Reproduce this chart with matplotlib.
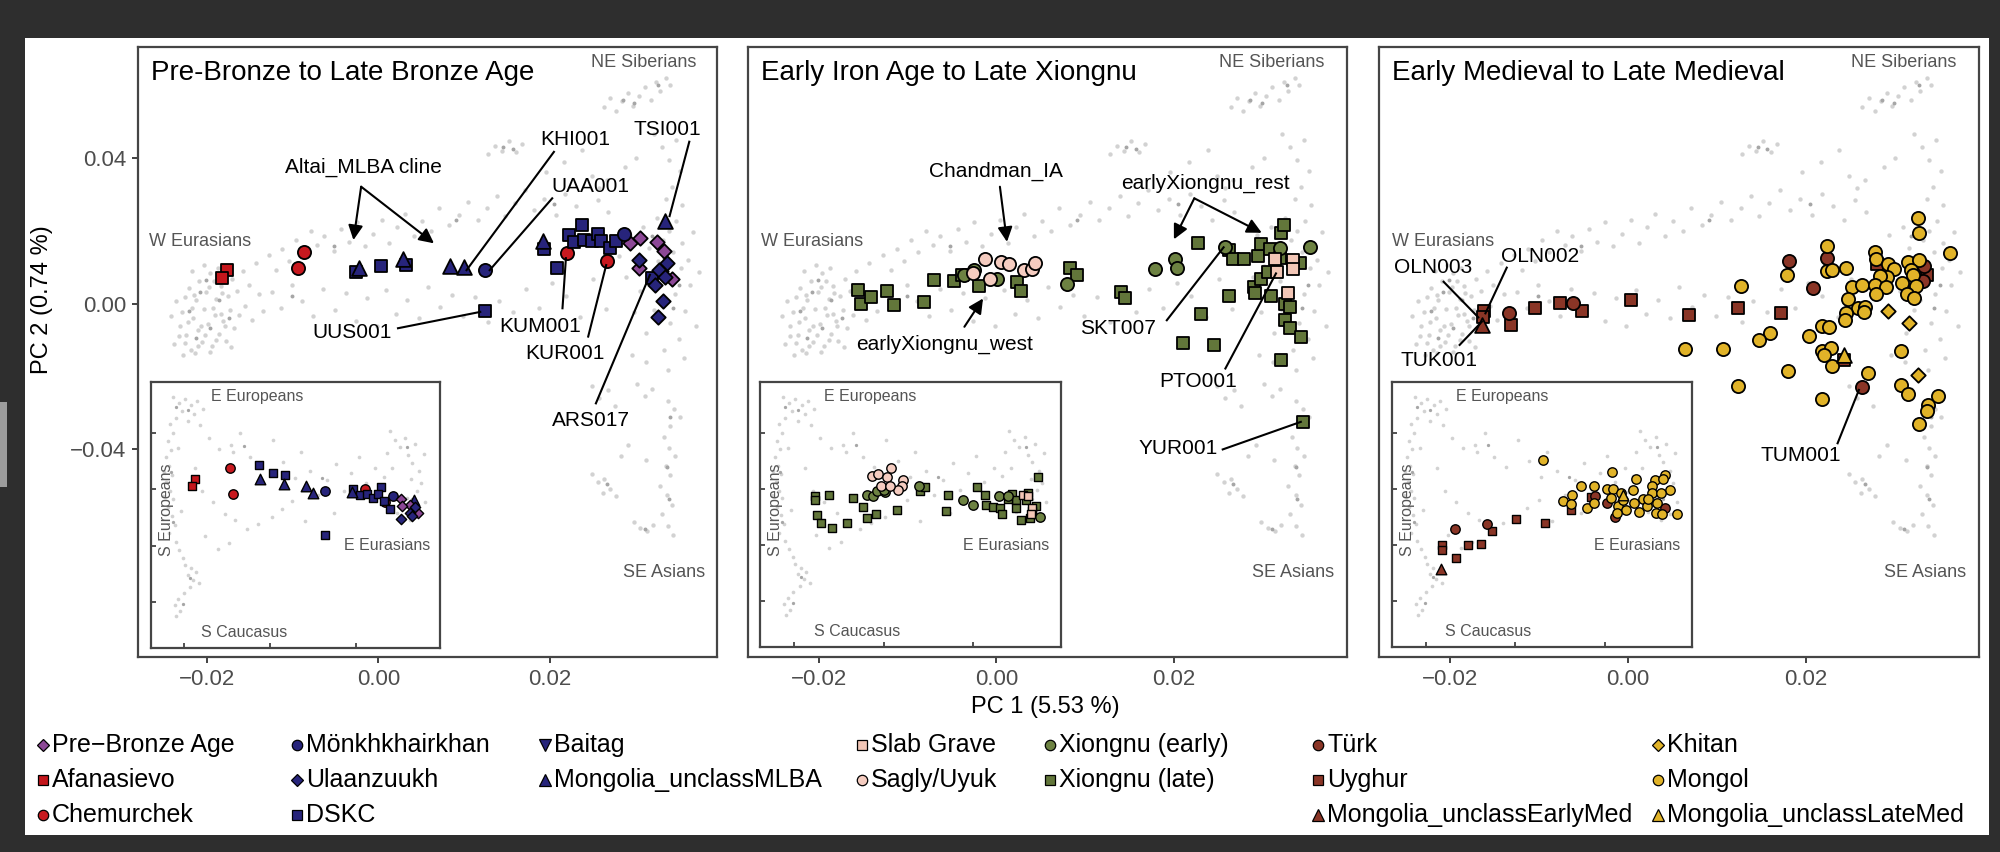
import matplotlib.pyplot as plt
from matplotlib.lines import Line2D
from matplotlib.patches import Rectangle

plt.rcParams['font.family'] = ['Liberation Sans', 'DejaVu Sans']

# ---------------- data: groups (legend order) ----------------
group_names = ["Pre\u2212Bronze Age", "Afanasievo", "Chemurchek",
               "Mönkhkhairkhan", "Ulaanzuukh", "DSKC",
               "Baitag", "Mongolia_unclassMLBA",
               "Slab Grave", "Sagly/Uyuk",
               "Xiongnu (early)", "Xiongnu (late)",
               "Türk", "Uyghur", "Mongolia_unclassEarlyMed",
               "Khitan", "Mongol", "Mongolia_unclassLateMed"]
group_markers = ['D', 's', 'o', 'o', 'D', 's', 'v', '^', 's', 'o',
                 'o', 's', 'o', 's', '^', 'D', 'o', '^']
group_colors = ['#8c4896', '#c4161c', '#c8191f', '#27247b', '#27247b', '#27247b',
                '#27247b', '#27247b', '#f2c6b6', '#f5ccc0', '#6d8242', '#62763a',
                '#8a3526', '#8a3526', '#8a3526', '#e1b328', '#e1b328', '#e1b328']

# ---------------- panel 1 : Pre-Bronze to Late Bronze Age ----------------
p1_prebronze = [(0.0294, 0.0166), (0.0305, 0.0182), (0.0325, 0.0169), (0.0333, 0.0145),
                (0.0304, 0.0099), (0.0330, 0.0090), (0.0343, 0.0069)]
p1_afanasievo = [(-0.0177, 0.0092), (-0.0183, 0.0070)]
p1_chemurchek = [(-0.0087, 0.0143), (-0.0094, 0.0097), (0.0220, 0.0138), (0.0267, 0.0117)]
p1_monkh = [(0.0125, 0.0092), (0.0287, 0.0192)]
p1_ulaan = [(0.0304, 0.0120), (0.0337, 0.0113), (0.0328, 0.0092), (0.0323, 0.0051),
            (0.0332, 0.0008), (0.0326, -0.0036), (0.0335, 0.0074)]
p1_dskc = [(-0.0026, 0.0086), (0.0003, 0.0103), (0.0032, 0.0105), (0.0194, 0.0149),
           (0.0209, 0.0097), (0.0124, -0.0020), (0.0223, 0.0189), (0.0238, 0.0216),
           (0.0228, 0.0169), (0.0240, 0.0175), (0.0249, 0.0173), (0.0256, 0.0193),
           (0.0260, 0.0172), (0.0270, 0.0152), (0.0278, 0.0172), (0.0319, 0.0071)]
p1_mlba = [(-0.0023, 0.0097), (0.0029, 0.0122), (0.0084, 0.0103), (0.0100, 0.0102),
           (0.0192, 0.0172), (0.0335, 0.0227)]

i1_prebronze = [(0.0305, -0.0071), (0.0326, -0.0114), (0.0337, -0.0154), (0.0344, -0.0171),
                (0.0308, -0.0118)]
i1_afanasievo = [(-0.0174, 0.0076), (-0.0181, 0.0024)]
i1_chemurchek = [(-0.0092, 0.0154), (-0.0085, -0.0036), (0.0222, 0.0000), (0.0268, -0.0090)]
i1_monkh = [(0.0127, -0.0012), (0.0287, -0.0047)]
i1_ulaan = [(0.0305, -0.0208), (0.0326, -0.0166), (0.0337, -0.0126), (0.0331, -0.0189)]
i1_dskc = [(-0.0025, 0.0171), (0.0006, 0.0114), (0.0035, 0.0102), (0.0127, -0.0322),
           (0.0193, 0.0005), (0.0210, -0.0043), (0.0226, -0.0036), (0.0240, -0.0059),
           (0.0257, 0.0019), (0.0251, -0.0036), (0.0264, -0.0083), (0.0280, -0.0142)]
i1_mlba = [(-0.0023, 0.0076), (0.0033, 0.0036), (0.0084, 0.0024), (0.0100, -0.0028),
           (0.0191, -0.0019), (0.0335, -0.0076)]

# ---------------- panel 2 : Early Iron Age to Late Xiongnu ----------------
p2_late = [(-0.0156, 0.0037), (-0.0152, 0.0000), (-0.0141, 0.0019), (-0.0123, 0.0035),
           (-0.0115, -0.0004), (-0.0082, 0.0003), (-0.0070, 0.0065), (-0.0048, 0.0063),
           (-0.0039, 0.0078), (-0.0019, 0.0049), (0.0023, 0.0060), (0.0028, 0.0035),
           (0.0083, 0.0097), (0.0091, 0.0079), (0.0140, 0.0031), (0.0145, 0.0016),
           (0.0210, -0.0110), (0.0227, 0.0168), (0.0231, -0.0029), (0.0245, -0.0114),
           (0.0262, 0.0147), (0.0262, 0.0021), (0.0267, 0.0123), (0.0279, 0.0122),
           (0.0290, 0.0045), (0.0291, 0.0028), (0.0295, 0.0131), (0.0298, 0.0164),
           (0.0298, 0.0069), (0.0306, 0.0088), (0.0308, 0.0150), (0.0309, 0.0021),
           (0.0321, 0.0195), (0.0324, 0.0216), (0.0319, 0.0125), (0.0325, 0.0000),
           (0.0325, -0.0046), (0.0331, -0.0009), (0.0331, -0.0068), (0.0342, 0.0111),
           (0.0343, -0.0091), (0.0321, -0.0156), (0.0345, -0.0326)]
p2_early = [(-0.0037, 0.0079), (-0.0025, 0.0092), (0.0001, 0.0067), (0.0080, 0.0054),
            (0.0179, 0.0095), (0.0201, 0.0123), (0.0203, 0.0097), (0.0258, 0.0155),
            (0.0319, 0.0152), (0.0353, 0.0157)]
p2_sagly = [(-0.0013, 0.0123), (0.0005, 0.0115), (0.0014, 0.0109), (-0.0026, 0.0083),
            (-0.0007, 0.0069), (0.0031, 0.0092), (0.0040, 0.0096), (0.0044, 0.0111)]
p2_slab = [(0.0314, 0.0123), (0.0334, 0.0120), (0.0334, 0.0094), (0.0316, 0.0088),
           (0.0329, 0.0028)]

i2_late = [(-0.0153, -0.0052), (-0.0153, -0.0081), (-0.0121, -0.0040), (-0.0069, -0.0064),
           (-0.0149, -0.0189), (-0.0140, -0.0246), (-0.0114, -0.0277), (-0.0082, -0.0246),
           (-0.0046, -0.0131), (-0.0038, -0.0211), (-0.0018, -0.0182), (0.0029, -0.0147),
           (0.0082, -0.0017), (0.0092, 0.0014), (0.0144, -0.0040), (0.0140, -0.0159),
           (0.0208, 0.0012), (0.0226, -0.0040), (0.0229, -0.0118), (0.0244, -0.0128),
           (0.0259, -0.0135), (0.0263, -0.0182), (0.0287, -0.0033), (0.0296, -0.0081),
           (0.0306, -0.0223), (0.0322, -0.0028), (0.0326, -0.0206), (0.0343, 0.0085),
           (0.0339, -0.0123), (0.0296, -0.0135), (0.0317, -0.0076), (0.0277, -0.0071),
           (0.0330, -0.0159)]
i2_early = [(-0.0038, -0.0040), (-0.0024, -0.0052), (-0.0015, -0.0017), (0.0002, -0.0024),
            (0.0079, 0.0024), (0.0177, -0.0081), (0.0200, -0.0113), (0.0257, -0.0052),
            (0.0349, -0.0202), (0.0278, -0.0052), (0.0001, -0.0005)]
i2_sagly = [(-0.0025, 0.0090), (-0.0012, 0.0109), (0.0016, 0.0149), (0.0008, 0.0085),
            (0.0044, 0.0061), (0.0041, 0.0024), (0.0032, -0.0005), (-0.0006, 0.0024),
            (0.0014, 0.0024)]
i2_slab = [(0.0311, -0.0040), (0.0330, -0.0135), (0.0329, -0.0182), (0.0322, -0.0052)]

# ---------------- panel 3 : Early Medieval to Late Medieval ----------------
p3_turk = [(-0.0133, -0.0027), (-0.0062, 0.0001), (0.0181, 0.0118), (0.0224, 0.0125),
           (0.0208, 0.0042), (0.0333, 0.0103), (0.0332, 0.0063), (0.0264, -0.0231)]
p3_uyghur = [(-0.0162, -0.0020), (-0.0163, -0.0036), (-0.0131, -0.0059), (-0.0104, -0.0013),
             (-0.0076, 0.0001), (-0.0051, -0.0020), (0.0004, 0.0010), (0.0069, -0.0032),
             (0.0124, -0.0013), (0.0172, -0.0027), (0.0280, 0.0109), (0.0337, 0.0079),
             (0.0243, -0.0156)]
p3_earlymed = [(-0.0164, -0.0059)]
p3_khitan = [(0.0293, -0.0020), (0.0316, -0.0053), (0.0326, -0.0197)]
p3_mongol = [(0.0326, 0.0236), (0.0327, 0.0195), (0.0224, 0.0159), (0.0278, 0.0143),
             (0.0279, 0.0122), (0.0362, 0.0138), (0.0179, 0.0080), (0.0224, 0.0090),
             (0.0230, 0.0092), (0.0245, 0.0097), (0.0293, 0.0109), (0.0299, 0.0094),
             (0.0315, 0.0115), (0.0327, 0.0120), (0.0319, 0.0092), (0.0321, 0.0079),
             (0.0291, 0.0072), (0.0284, 0.0077), (0.0308, 0.0057), (0.0324, 0.0048),
             (0.0314, 0.0026), (0.0322, 0.0014), (0.0127, 0.0048), (0.0252, 0.0045),
             (0.0264, 0.0051), (0.0278, 0.0051), (0.0290, 0.0045), (0.0279, 0.0026),
             (0.0248, 0.0012), (0.0259, -0.0013), (0.0267, -0.0009), (0.0266, -0.0023),
             (0.0246, -0.0025), (0.0244, -0.0044), (0.0219, -0.0062), (0.0226, -0.0064),
             (0.0204, -0.0089), (0.0160, -0.0080), (0.0148, -0.0101), (0.0064, -0.0126),
             (0.0107, -0.0126), (0.0218, -0.0130), (0.0229, -0.0123), (0.0221, -0.0142),
             (0.0230, -0.0172), (0.0180, -0.0185), (0.0270, -0.0192), (0.0307, -0.0130),
             (0.0124, -0.0227), (0.0219, -0.0263), (0.0307, -0.0225), (0.0315, -0.0248),
             (0.0338, -0.0280), (0.0337, -0.0295), (0.0349, -0.0254), (0.0328, -0.0332)]
p3_latemed = [(0.0243, -0.0142)]

i3_turk = [(-0.0135, -0.0289), (-0.0064, -0.0253), (0.0179, -0.0052), (0.0206, -0.0099),
           (0.0222, -0.0199), (0.0334, -0.0135)]
i3_uyghur = [(-0.0164, -0.0402), (-0.0164, -0.0436), (-0.0132, -0.0490), (-0.0106, -0.0400),
             (-0.0076, -0.0390), (-0.0053, -0.0301), (0.0002, -0.0218), (0.0067, -0.0246),
             (0.0124, -0.0147), (0.0170, -0.0057)]
i3_earlymed = [(-0.0166, -0.0573)]
i3_mongol = [(0.0062, 0.0208), (0.0217, 0.0118), (0.0269, 0.0073), (0.0146, 0.0024),
             (0.0177, 0.0024), (0.0204, 0.0000), (0.0219, 0.0000), (0.0106, -0.0083),
             (0.0126, -0.0047), (0.0124, -0.0111), (0.0160, -0.0135), (0.0177, -0.0104),
             (0.0237, -0.0028), (0.0263, -0.0005), (0.0312, 0.0066), (0.0334, 0.0102),
             (0.0330, 0.0071), (0.0347, -0.0010), (0.0305, 0.0019), (0.0305, -0.0028),
             (0.0285, -0.0071), (0.0277, -0.0166), (0.0314, -0.0170), (0.0328, -0.0182),
             (0.0361, -0.0177), (0.0230, -0.0123), (0.0248, -0.0147), (0.0266, -0.0099),
             (0.0294, -0.0123), (0.0316, -0.0099), (0.0215, -0.0064), (0.0241, -0.0076),
             (0.0228, -0.0170), (0.0325, -0.0028), (0.0296, -0.0071)]
i3_latemed = [(0.0241, -0.0047)]

# ---------------- reference background (shared by the three panels) ----------------
bg_light = [
    # W Eurasians
    (-0.0238, -0.0112), (-0.0232, -0.0061), (-0.0229, -0.0023), (-0.0226, 0.0018), (-0.0224, -0.0088),
    (-0.0221, 0.0044), (-0.0219, -0.0129), (-0.0216, -0.0041), (-0.0213, 0.0009), (-0.0211, -0.0074),
    (-0.0209, 0.0061), (-0.0206, -0.0105), (-0.0204, -0.0016), (-0.0201, 0.0031), (-0.0199, -0.0057),
    (-0.0196, 0.0083), (-0.0194, -0.0118), (-0.0191, -0.0032), (-0.0189, 0.0012), (-0.0186, -0.0083),
    (-0.0184, 0.0049), (-0.0181, -0.0047), (-0.0178, -0.0102), (-0.0176, 0.0021), (-0.0173, -0.0019),
    (-0.0171, 0.0069), (-0.0168, -0.0066), (-0.0165, 0.0035), (-0.0162, -0.0031), (-0.0158, 0.0091),
    (-0.0155, -0.0008), (-0.0151, 0.0052), (-0.0147, -0.0045), (-0.0143, 0.0112), (-0.0139, 0.0026),
    (-0.0135, -0.0021), (-0.0242, -0.0035), (-0.0236, 0.0007), (-0.0217, 0.0089), (-0.0203, 0.0105),
    (-0.0187, 0.0098), (-0.0214, -0.0137), (-0.0197, -0.0134), (-0.0228, -0.0141), (-0.0172, -0.0121),
    (-0.0233, -0.0089), (-0.0222, -0.0052), (-0.0218, -0.0011), (-0.0207, -0.0063), (-0.0202, -0.0087),
    (-0.0193, -0.0012), (-0.0189, -0.0101), (-0.0183, 0.0028), (-0.0179, -0.0062), (-0.0215, 0.0024),
    (-0.0226, -0.0109), (-0.0198, 0.0047), (-0.0211, -0.0117), (-0.0184, -0.0029), (-0.0192, 0.0063),
    # upper cline
    (-0.0128, 0.0135), (-0.0119, 0.0093), (-0.0112, 0.0151), (-0.0104, 0.0118), (-0.0096, 0.0176),
    (-0.0088, 0.0141), (-0.0079, 0.0199), (-0.0071, 0.0162), (-0.0063, 0.0187), (-0.0052, 0.0145),
    (-0.0043, 0.0205), (-0.0034, 0.0171), (-0.0025, 0.0224), (-0.0016, 0.0158), (-0.0006, 0.0193),
    (0.0004, 0.0231), (0.0013, 0.0168), (0.0022, 0.0212), (0.0031, 0.0247), (0.0042, 0.0186),
    (0.0051, 0.0228), (0.0062, 0.0199), (0.0071, 0.0262), (0.0083, 0.0217), (0.0094, 0.0245),
    (0.0105, 0.0281), (0.0116, 0.0229), (0.0127, 0.0264), (0.0139, 0.0296), (0.0148, 0.0241),
    (0.0159, 0.0277), (0.0171, 0.0312), (0.0182, 0.0258), (0.0194, 0.0289), (0.0207, 0.0243),
    (0.0218, 0.0301), (0.0231, 0.0268), (0.0243, 0.0229), (0.0256, 0.0284), (0.0268, 0.0252),
    # lower cline
    (-0.0124, 0.0031), (-0.0113, -0.0012), (-0.0101, 0.0052), (-0.0089, 0.0008), (-0.0076, -0.0034),
    (-0.0064, 0.0041), (-0.0051, -0.0017), (-0.0038, 0.0029), (-0.0026, -0.0049), (-0.0013, 0.0015),
    (-0.0002, -0.0062), (0.0009, 0.0037), (0.0021, -0.0028), (0.0034, 0.0011), (0.0047, -0.0041),
    (0.0058, 0.0046), (0.0072, -0.0009), (0.0086, 0.0024), (0.0099, -0.0035), (0.0113, 0.0019),
    (0.0128, -0.0052), (0.0141, 0.0008), (0.0157, -0.0023), (0.0172, 0.0041), (0.0188, -0.0011),
    (0.0203, 0.0058), (0.0219, 0.0021), (0.0236, -0.0038), (0.0251, 0.0067), (0.0266, -0.0016),
    # E Eurasians
    (0.0281, 0.0131), (0.0289, 0.0072), (0.0294, 0.0188), (0.0298, -0.0024), (0.0302, 0.0104),
    (0.0306, 0.0035), (0.0309, 0.0212), (0.0313, -0.0081), (0.0316, 0.0153), (0.0319, 0.0061),
    (0.0322, -0.0017), (0.0325, 0.0236), (0.0327, 0.0118), (0.0329, 0.0009), (0.0332, 0.0175),
    (0.0334, -0.0129), (0.0337, 0.0083), (0.0339, 0.0201), (0.0341, -0.0054), (0.0344, 0.0142),
    (0.0346, 0.0026), (0.0348, 0.0227), (0.0351, -0.0098), (0.0353, 0.0097), (0.0355, 0.0168),
    (0.0358, -0.0021), (0.0361, 0.0121), (0.0364, 0.0051), (0.0367, 0.0196), (0.0371, -0.0063),
    (0.0374, 0.0088), (0.0312, -0.0162), (0.0338, -0.0184), (0.0296, -0.0141), (0.0357, -0.0151),
    # NE Siberians
    (0.0128, 0.0412), (0.0136, 0.0435), (0.0144, 0.0421), (0.0152, 0.0447), (0.0161, 0.0418),
    (0.0168, 0.0439), (0.0249, 0.0352), (0.0258, 0.0318), (0.0267, 0.0341), (0.0264, 0.0541),
    (0.0271, 0.0566), (0.0278, 0.0532), (0.0285, 0.0558), (0.0291, 0.0579), (0.0297, 0.0545),
    (0.0304, 0.0571), (0.0311, 0.0597), (0.0318, 0.0562), (0.0324, 0.0611), (0.0329, 0.0587),
    (0.0336, 0.0622), (0.0341, 0.0601), (0.0322, 0.0468), (0.0331, 0.0431), (0.0339, 0.0396),
    (0.0347, 0.0452), (0.0352, 0.0364), (0.0343, 0.0321), (0.0336, 0.0287), (0.0355, 0.0271),
    (0.0217, 0.0391), (0.0196, 0.0362), (0.0238, 0.0424), (0.0301, 0.0402), (0.0288, 0.0376),
    # SE Asians
    (0.0249, -0.0226), (0.0258, -0.0261), (0.0268, -0.0238), (0.0276, -0.0283), (0.0302, -0.0221),
    (0.0311, -0.0254), (0.0319, -0.0236), (0.0338, -0.0268), (0.0345, -0.0291), (0.0352, -0.0312),
    (0.0341, -0.0337), (0.0333, -0.0369), (0.0339, -0.0398), (0.0346, -0.0421), (0.0336, -0.0447),
    (0.0341, -0.0472), (0.0329, -0.0503), (0.0337, -0.0528), (0.0343, -0.0556), (0.0331, -0.0581),
    (0.0338, -0.0612), (0.0344, -0.0638), (0.0249, -0.0471), (0.0256, -0.0492), (0.0264, -0.0484),
    (0.0271, -0.0512), (0.0278, -0.0531), (0.0262, -0.0523), (0.0298, -0.0603), (0.0306, -0.0618),
    (0.0314, -0.0627), (0.0321, -0.0609), (0.0292, -0.0389), (0.0283, -0.0421), (0.0313, -0.0431)]
bg_dark = [(-0.0221, -0.0021), (-0.0208, 0.0031), (-0.0196, -0.0068), (-0.0213, -0.0094),
           (-0.0186, 0.0009), (-0.0174, -0.0041), (-0.0201, 0.0064), (0.0146, 0.0431),
           (0.0157, 0.0425), (0.0286, 0.0561), (0.0299, 0.0552), (0.0327, 0.0603),
           (0.0333, 0.0126), (0.0351, 0.0052), (0.0344, -0.0012), (0.0319, 0.0187),
           (0.0341, -0.0312), (0.0337, -0.0451), (0.0339, -0.0539), (0.0267, -0.0496),
           (0.0311, -0.0621), (-0.0052, 0.0158), (0.0091, 0.0231), (0.0205, 0.0273),
           (-0.0101, 0.0021)]

inset_bg_light = [
    (-0.0225, 0.0655), (-0.0212, 0.0612), (-0.0198, 0.0641), (-0.0183, 0.0598), (-0.0169, 0.0627),
    (-0.0156, 0.0571), (-0.0176, 0.0532), (-0.0205, 0.0553), (-0.0219, 0.0508), (-0.0191, 0.0482),
    (-0.0163, 0.0455), (-0.0233, 0.0461), (-0.0226, 0.0402), (-0.0238, 0.0344), (-0.0231, 0.0281),
    (-0.0242, 0.0226), (-0.0235, 0.0163), (-0.0228, 0.0104), (-0.0241, 0.0049), (-0.0233, -0.0012),
    (-0.0226, -0.0068), (-0.0237, -0.0127), (-0.0229, -0.0189), (-0.0222, -0.0251), (-0.0234, -0.0313),
    (-0.0219, -0.0372), (-0.0211, -0.0431), (-0.0203, -0.0489), (-0.0197, -0.0538), (-0.0184, -0.0562),
    (-0.0172, -0.0589), (-0.0191, -0.0607), (-0.0178, -0.0641), (-0.0165, -0.0668), (-0.0186, -0.0692),
    (-0.0201, -0.0736), (-0.0214, -0.0781), (-0.0222, -0.0824), (-0.0209, -0.0863), (-0.0218, -0.0902),
    (-0.0246, 0.0126), (-0.0249, -0.0046), (-0.0214, 0.0291), (-0.0207, -0.0152),
    (-0.0142, 0.0361), (-0.0118, 0.0289), (-0.0091, 0.0312), (-0.0085, 0.0262), (-0.0069, 0.0401),
    (-0.0047, 0.0228), (-0.0022, 0.0156), (0.0006, 0.0352), (0.0031, 0.0197), (0.0058, 0.0082),
    (0.0071, 0.0264), (0.0094, 0.0131), (0.0112, -0.0042), (0.0133, 0.0065), (0.0154, 0.0182),
    (0.0171, -0.0009), (0.0189, 0.0114), (0.0206, 0.0231), (0.0223, 0.0046), (0.0245, 0.0152),
    (-0.0132, -0.0091), (-0.0105, -0.0172), (-0.0081, -0.0221), (-0.0053, -0.0283), (-0.0028, -0.0246),
    (0.0004, -0.0197), (0.0027, -0.0139), (0.0052, -0.0081), (-0.0151, -0.0331), (-0.0121, -0.0421),
    (-0.0096, -0.0381), (0.0081, -0.0228), (0.0148, -0.0171), (-0.0175, 0.0151), (-0.0158, -0.0012),
    (0.0279, 0.0412), (0.0291, 0.0351), (0.0302, 0.0298), (0.0314, 0.0367), (0.0322, 0.0245),
    (0.0331, 0.0189), (0.0338, 0.0322), (0.0346, 0.0131), (0.0329, 0.0071), (0.0341, -0.0011),
    (0.0352, 0.0045), (0.0318, -0.0062), (0.0335, -0.0128), (0.0347, -0.0182), (0.0326, -0.0221),
    (0.0296, -0.0165), (0.0283, 0.0152), (0.0264, 0.0089), (0.0271, 0.0261), (0.0252, -0.0021),
    (0.0357, 0.0254), (0.0361, -0.0091)]
inset_bg_dark = [(-0.0219, 0.0587), (-0.0191, 0.0561), (-0.0231, 0.0122), (-0.0226, -0.0235),
                 (-0.0185, -0.0628), (-0.0203, -0.0812), (0.0318, 0.0301), (0.0331, -0.0071),
                 (-0.0061, 0.0311), (0.0121, 0.0083)]

panel_titles = ["Pre-Bronze to Late Bronze Age", "Early Iron Age to Late Xiongnu",
                "Early Medieval to Late Medieval"]
x_ticks = [-0.02, 0.00, 0.02]
y_ticks = [-0.04, 0.00, 0.04]
inset_x_ticks = [-0.02, 0.00, 0.02]
inset_y_ticks = [-0.08, -0.04, 0.00, 0.04]

# annotations: (label, text xy, line start, line end, arrow head?)
p1_notes = [("Altai_MLBA cline", (-0.0017, 0.0374), (-0.0020, 0.0322), (-0.0029, 0.0175), True),
            (None, None, (-0.0020, 0.0322), (0.0065, 0.0166), True),
            ("KHI001", (0.0230, 0.0452), (0.0205, 0.0418), (0.0103, 0.0092), False),
            ("UAA001", (0.0248, 0.0322), (0.0203, 0.0290), (0.0130, 0.0092), False),
            ("TSI001", (0.0337, 0.0480), (0.0363, 0.0446), (0.0340, 0.0241), False),
            ("UUS001", (-0.0031, -0.0079), (0.0023, -0.0068), (0.0119, -0.0023), False),
            ("KUM001", (0.0189, -0.0064), (0.0215, -0.0013), (0.0219, 0.0125), False),
            ("KUR001", (0.0218, -0.0139), (0.0245, -0.0091), (0.0266, 0.0106), False),
            ("ARS017", (0.0248, -0.0321), (0.0254, -0.0275), (0.0317, 0.0079), False)]
p2_notes = [("Chandman_IA", (-0.0001, 0.0365), (0.0004, 0.0322), (0.0012, 0.0170), True),
            ("earlyXiongnu_rest", (0.0236, 0.0331), (0.0223, 0.0290), (0.0200, 0.0177), True),
            (None, None, (0.0223, 0.0290), (0.0299, 0.0195), True),
            ("earlyXiongnu_west", (-0.0058, -0.0112), (-0.0036, -0.0064), (-0.0015, 0.0014), True),
            ("SKT007", (0.0137, -0.0068), (0.0192, -0.0046), (0.0256, 0.0155), False),
            ("PTO001", (0.0227, -0.0215), (0.0258, -0.0179), (0.0315, 0.0083), False),
            ("YUR001", (0.0205, -0.0399), (0.0255, -0.0402), (0.0343, -0.0326), False)]
p3_notes = [("OLN003", (-0.0219, 0.0099), (-0.0207, 0.0060), (-0.0168, -0.0038), False),
            ("OLN002", (-0.0098, 0.0129), (-0.0136, 0.0099), (-0.0160, -0.0027), False),
            ("TUK001", (-0.0212, -0.0158), (-0.0189, -0.0114), (-0.0164, -0.0050), False),
            ("TUM001", (0.0195, -0.0420), (0.0236, -0.0385), (0.0260, -0.0238), False)]

# ---------------- figure ----------------
W, H = 2000, 852
fig = plt.figure(figsize=(20, 8.52), dpi=100)
fig.patch.set_facecolor('#2e2e2e')
fig.add_artist(Rectangle((25 / W, 1 - 835 / H), (1989 - 25) / W, (835 - 38) / H,
                         transform=fig.transFigure, facecolor='white', edgecolor='none', zorder=-10))
fig.add_artist(Rectangle((0, 1 - 487 / H), 7 / W, 85 / H, transform=fig.transFigure,
                         facecolor='#9c9c9c', edgecolor='none', zorder=-10))


def box(l, t, r, b):
    return [l / W, 1 - b / H, (r - l) / W, (b - t) / H]


def fmt(v):
    return ('%.2f' % v).replace('-', '\u2212')


def scatter_group(ax, pts, gi, size, lw):
    if not pts:
        return
    xs = [p[0] for p in pts]
    ys = [p[1] for p in pts]
    m = group_markers[gi]
    s = size * {'o': 1.0, 's': 0.85, 'D': 0.6, '^': 1.25, 'v': 1.25}[m]
    ax.scatter(xs, ys, marker=m, s=s, c=group_colors[gi], edgecolors='black',
               linewidths=lw, zorder=3)


def background(ax, light, dark, s):
    ax.scatter([p[0] for p in light], [p[1] for p in light], s=s, c='#d2d2d2',
               linewidths=0, zorder=1)
    ax.scatter([p[0] for p in dark], [p[1] for p in dark], s=s * 0.8, c='#a6a6a6',
               linewidths=0, zorder=1)


main_boxes = [(138.4, 47, 716.7, 657), (747.8, 47, 1347, 657), (1378.7, 47, 1979, 657)]
inset_boxes = [(151, 382, 440, 648), (759.5, 382, 1061, 647), (1391.7, 382, 1692, 647)]

main_sets = [
    [(p1_prebronze, 0), (p1_afanasievo, 1), (p1_chemurchek, 2), (p1_dskc, 5),
     (p1_mlba, 7), (p1_monkh, 3), (p1_ulaan, 4)],
    [(p2_late, 11), (p2_early, 10), (p2_sagly, 9), (p2_slab, 8)],
    [(p3_uyghur, 13), (p3_turk, 12), (p3_earlymed, 14), (p3_mongol, 16),
     (p3_khitan, 15), (p3_latemed, 17)],
]
inset_sets = [
    [(i1_afanasievo, 1), (i1_chemurchek, 2), (i1_dskc, 5), (i1_mlba, 7), (i1_monkh, 3),
     (i1_prebronze, 0), (i1_ulaan, 4)],
    [(i2_late, 11), (i2_early, 10), (i2_sagly, 9), (i2_slab, 8)],
    [(i3_uyghur, 13), (i3_turk, 12), (i3_earlymed, 14), (i3_mongol, 16), (i3_latemed, 17)],
]
notes = [p1_notes, p2_notes, p3_notes]
frame_col = '#454545'

for k in range(3):
    ax = fig.add_axes(box(*main_boxes[k]))
    ax.set_xlim(-0.028, 0.0395)
    ax.set_ylim(-0.0974, 0.0707)
    for sp in ax.spines.values():
        sp.set_color(frame_col)
        sp.set_linewidth(1.6)
    ax.set_xticks(x_ticks)
    ax.set_xticklabels([fmt(v) for v in x_ticks])
    if k == 0:
        ax.set_yticks(y_ticks)
        ax.set_yticklabels([fmt(v) for v in y_ticks])
    else:
        ax.set_yticks([])
    ax.tick_params(direction='out', length=4.5, width=1.3, color='#333333',
                   labelsize=16, labelcolor='#4d4d4d', pad=4)

    background(ax, bg_light, bg_dark, 10)
    for pts, gi in main_sets[k]:
        scatter_group(ax, pts, gi, 90, 1.3)

    ax.text(13 / (main_boxes[k][2] - main_boxes[k][0]), 0.957, panel_titles[k],
            transform=ax.transAxes, fontsize=20, ha='left', va='center', color='black')
    ax.text(0.031, 0.0663, "NE Siberians", fontsize=13, color='#555555', ha='center', va='center')
    ax.text(-0.0208, 0.0172, "W Eurasians", fontsize=13, color='#555555', ha='center', va='center')
    ax.text(0.0334, -0.0741, "SE Asians", fontsize=13, color='#555555', ha='center', va='center')

    for label, txy, a, b, head in notes[k]:
        if head:
            ax.annotate('', xy=b, xytext=a, zorder=4,
                        arrowprops=dict(arrowstyle='-|>', color='black', lw=1.5,
                                        mutation_scale=22, shrinkA=0, shrinkB=0))
        else:
            ax.plot([a[0], b[0]], [a[1], b[1]], color='black', lw=1.5, zorder=4)
        if label:
            ax.text(txy[0], txy[1], label, fontsize=15, ha='center', va='center',
                    color='black', zorder=5)

    # inset with the broader West-East Eurasian PCA
    ix = fig.add_axes(box(*inset_boxes[k]))
    ix.set_xlim(-0.02767, 0.03953)
    ix.set_ylim(-0.1127, 0.0762)
    for sp in ix.spines.values():
        sp.set_color(frame_col)
        sp.set_linewidth(1.6)
    ix.set_xticks(inset_x_ticks)
    ix.set_yticks(inset_y_ticks)
    ix.tick_params(direction='in', length=3.5, width=1.2, color='#333333',
                   labelbottom=False, labelleft=False)
    background(ix, inset_bg_light, inset_bg_dark, 7)
    for pts, gi in inset_sets[k]:
        scatter_group(ix, pts, gi, 46, 1.0)
    ix.text(-0.0030, 0.0658, "E Europeans", fontsize=11.5, color='#555555', ha='center', va='center')
    ix.text(0.0272, -0.0401, "E Eurasians", fontsize=11.5, color='#555555', ha='center', va='center')
    ix.text(-0.0060, -0.1016, "S Caucasus", fontsize=11.5, color='#555555', ha='center', va='center')
    ix.text(-0.0241, -0.0147, "S Europeans", fontsize=11.5, color='#555555', ha='center',
            va='center', rotation=90)

# axis titles
fig.text(1045 / W, 1 - 707 / H, "PC 1 (5.53 %)", fontsize=17, ha='center', va='center')
fig.text(42 / W, 1 - 300 / H, "PC 2 (0.74 %)", fontsize=17, ha='center', va='center', rotation=90)

# legend, laid out in 7 columns x 3 rows
legend_cols = [[0, 1, 2], [3, 4, 5], [6, 7], [8, 9], [10, 11], [12, 13, 14], [15, 16, 17]]
col_x = [43, 297, 545, 862, 1050, 1318, 1658]
row_y = [745, 780, 815]
for c, members in enumerate(legend_cols):
    for r, gi in enumerate(members):
        xf, yf = col_x[c] / W, 1 - row_y[r] / H
        m = group_markers[gi]
        ms = {'o': 7.5, 's': 7.5, 'D': 6.5, '^': 9, 'v': 9}[m]
        fig.add_artist(Line2D([xf], [yf], marker=m, markersize=ms, color=group_colors[gi],
                              markeredgecolor='black', markeredgewidth=0.9, linestyle='none',
                              transform=fig.transFigure))
        fig.text(xf + 9 / W, yf, group_names[gi], fontsize=18, ha='left', va='center')

fig.savefig('out.png', dpi=100, facecolor=fig.get_facecolor())
